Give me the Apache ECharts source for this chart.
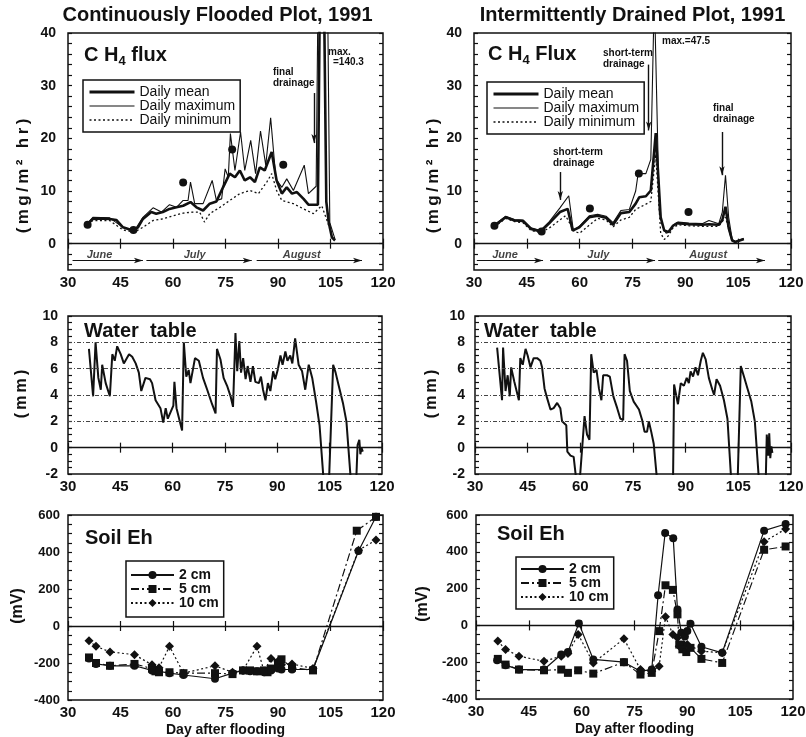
<!DOCTYPE html>
<html>
<head>
<meta charset="utf-8">
<title>CH4 flux, water table and soil Eh, 1991</title>
<script src="https://cdn.jsdelivr.net/npm/echarts@6/dist/echarts.min.js"></script>
<style>
  html, body { margin: 0; padding: 0; background: #fff; }
  #chart { width: 806px; height: 737px; }
</style>
</head>
<body>
<div id="chart"></div>
<script>
// ---------- CH4 flux (mg/m2 hr) vs day after flooding ----------
// Continuously flooded plot
const cfFluxMean = [[35.6,3.7],[37.1,4.7],[39,4.8],[41.9,4.7],[43.8,4.5],[45.7,3.1],[48.5,2.5],[50,3.1],[51.4,4.7],[53.8,6.0],[55.2,5.7],[57.1,6.0],[59,6.6],[61,6.9],[62.9,7.2],[65,7.9],[66.7,6.9],[68.6,6.3],[70.5,7.6],[72.4,8.0],[74.3,10.7],[76.2,13.3],[77.7,12.6],[79.1,13.9],[80.5,12.0],[82,12.6],[83.4,11.7],[84.8,14.5],[86.2,13.9],[88.2,17.4],[89.6,12.0],[91.1,9.5],[92.5,10.7],[94,9.5],[95.4,9.8],[97.3,8.5],[98.7,7.4],[101.4,7.4],[102.5,86],[103.8,8.0],[104.5,4.0],[105.4,1.2],[106.3,0.6]];
const cfFluxMax = [[35.6,3.9],[37.1,5.0],[41.9,4.9],[45.7,3.1],[49,2.5],[51.4,5.0],[54.3,6.8],[56.7,6.0],[59,7.4],[61,6.9],[62.9,8.2],[64.3,8.2],[65,11.7],[66.2,7.6],[68.6,7.6],[71.2,12.0],[72.4,8.2],[73.9,8.5],[74.9,14.2],[75.8,12.6],[76.4,20.9],[77.7,13.9],[79.3,21.2],[80.5,13.9],[82.2,19.6],[83.6,13.3],[85,21.4],[86.5,14.9],[87.9,23.9],[89.4,12.3],[91.1,10.7],[92.5,12.3],[94.4,10.1],[97.5,14.9],[98.7,9.5],[100.9,10.9],[102.8,140.3],[104.8,4.0],[106.3,0.8]];
const cfFluxMin = [[35.6,3.7],[37.1,4.4],[41.9,4.4],[45.7,2.6],[49,2.2],[51.4,3.1],[54.3,4.4],[57.1,4.7],[60,5.3],[62.9,5.8],[65.7,6.0],[67.6,6.0],[69,4.1],[70.5,5.7],[73.4,6.9],[76.2,8.2],[79.1,9.5],[82,10.1],[84.4,9.5],[86.8,11.7],[88.2,13.3],[89.6,10.1],[91.1,8.2],[94.4,7.6],[97.3,6.6],[100.1,5.7],[102.5,7.2],[104,4.4],[105.9,0.6]];
const cfFluxSpot = [[35.6,3.6],[48.7,2.6],[62.9,11.6],[76.9,17.9],[91.5,15.0]];

// Intermittently drained plot
const idFluxMean = [[35.8,3.4],[39,5.0],[41.5,4.4],[43.9,4.3],[46.2,2.8],[48.9,2.3],[51.4,3.9],[54.4,6.0],[56.6,6.6],[58,2.5],[59.9,3.1],[62.7,5.0],[65.1,5.3],[67.5,4.9],[69.5,3.6],[71.7,5.8],[74.1,6.0],[75.9,7.6],[76.9,8.8],[78.8,9.0],[80.2,10.1],[81.6,21.0],[83,5.0],[84,2.5],[85.2,2.2],[86.5,3.4],[87.7,3.9],[91,3.7],[94.8,3.6],[96.7,3.7],[99.5,3.6],[100.5,4.5],[101.4,7.0],[102.3,3.0],[103.3,0.6],[104.2,0.3],[106.6,0.9]];
const idFluxMax = [[35.8,3.6],[39,5.2],[41.5,4.6],[43.9,4.5],[46.2,3.0],[48.9,2.5],[51.4,4.2],[54.4,6.8],[56.9,9.1],[58.2,2.5],[59.9,3.3],[62.7,5.3],[65.1,5.6],[67.5,5.2],[69.5,4.0],[71.7,6.3],[74.1,6.5],[75.9,10.0],[76.6,13.3],[78.8,13.3],[80.2,16.0],[81.2,47.5],[82.6,6.0],[83.5,3.5],[84.5,2.0],[85.5,2.2],[86.5,3.5],[88,4.1],[91,3.9],[94.8,3.8],[96.7,4.4],[99.5,3.8],[100.5,6.0],[101.4,13.0],[102.3,5.0],[103.3,0.8],[104.2,0.4],[106.6,1.0]];
const idFluxMin = [[35.8,3.2],[39,4.8],[41.5,4.2],[43.9,4.0],[46.2,2.5],[48.9,2.1],[51.4,3.0],[54.4,4.5],[56,5.3],[57.5,3.5],[58.5,2.3],[60,2.0],[62.7,3.5],[65.1,4.8],[67.5,4.5],[69.5,3.2],[71.7,4.5],[74.1,5.0],[75.9,6.5],[78.8,7.5],[80.2,8.0],[81.6,17.0],[83,2.0],[84,0.8],[85.2,1.5],[86.5,3.0],[88,3.6],[91,3.4],[94.8,3.3],[99.5,3.3],[101.4,5.0],[103.3,0.4],[106.6,0.8]];
const idFluxSpot = [[35.8,3.4],[49.2,2.3],[62.9,6.7],[76.8,13.3],[90.9,6.0]];

// ---------- Water table (mm) ----------
const cfWater = [[36.0,7.5],[37.2,3.9],[37.9,8.0],[38.7,5.3],[39.4,4.4],[39.8,6.3],[40.8,4.9],[42.0,3.9],[42.7,7.1],[43.4,6.6],[44.1,7.7],[45.1,7.1],[46.0,6.4],[47.5,7.1],[48.4,6.9],[49.4,6.4],[50.3,5.7],[51.0,4.3],[52.2,5.3],[53.5,5.2],[54.1,4.9],[55.1,3.6],[56.5,3.0],[57.3,1.9],[58.0,3.0],[58.6,2.2],[59.4,2.7],[60.2,3.2],[60.5,5.0],[61.1,3.0],[62.7,1.3],[63.2,8.0],[63.9,5.4],[64.6,5.9],[65.1,4.9],[66.4,6.8],[67.5,6.6],[68.7,5.3],[69.9,4.4],[71.3,3.3],[72.3,2.6],[72.7,7.5],[73.7,6.7],[74.6,5.3],[75.6,4.7],[76.6,3.9],[77.3,3.1],[78.0,8.7],[78.5,5.8],[79.1,8.1],[79.6,5.7],[80.2,6.8],[80.9,5.2],[81.5,6.2],[82.3,5.0],[83.0,6.2],[83.7,5.0],[84.7,4.9],[85.3,5.4],[85.9,4.4],[86.6,3.6],[87.3,4.9],[88.0,4.3],[88.8,5.8],[89.4,5.2],[90.1,5.9],[90.9,7.0],[91.5,6.3],[92.3,7.3],[92.9,6.6],[93.7,7.0],[94.3,6.4],[95.1,8.3],[96.1,6.3],[97.1,5.8],[98.0,4.4],[99.0,6.3],[100.0,5.3],[101.1,3.5],[102.1,1.7],[103.3,-2.6],[104.8,-2.6],[106.0,6.3],[106.7,5.7],[107.6,4.7],[108.8,3.4],[109.8,2.0],[111.1,-2.6],[112.6,-2.6],[113.0,0.2],[113.5,0.6],[113.8,-0.5],[114.1,0.0],[114.5,-0.3]];
const idWater = [[36.3,7.6],[37.7,3.6],[38.0,7.6],[38.7,4.3],[39.3,5.5],[39.9,3.9],[40.3,6.1],[41.2,5.0],[42.5,3.6],[42.9,6.8],[43.6,6.3],[44.4,7.5],[45.0,7.0],[45.8,6.1],[46.7,6.8],[47.7,6.8],[48.6,6.6],[49.1,6.1],[49.8,4.5],[50.5,3.8],[51.5,2.9],[52.4,3.0],[53.4,3.4],[54.3,3.0],[54.8,2.0],[56.0,1.7],[56.3,-0.3],[57.2,-0.6],[58.1,-0.7],[58.9,-2.6],[59.8,-2.6],[61.2,2.4],[61.9,1.0],[62.6,0.6],[63.1,7.1],[63.8,5.7],[64.6,5.9],[65.3,4.5],[66.0,3.6],[66.5,5.5],[67.6,5.5],[68.4,5.4],[69.4,3.9],[70.5,3.0],[71.4,2.2],[72.2,2.1],[72.6,7.1],[73.3,6.6],[74.1,4.3],[75.2,3.5],[76.7,2.9],[77.6,2.1],[78.3,1.2],[79.0,1.2],[79.5,2.0],[80.2,1.2],[80.9,0.3],[81.9,-2.6],[86.4,-2.6],[86.7,4.8],[87.8,3.3],[88.6,4.9],[89.5,4.7],[90.3,5.3],[90.9,4.9],[91.4,5.8],[92.1,5.4],[92.8,6.1],[93.5,5.5],[94.3,6.6],[94.9,7.2],[95.7,6.7],[96.6,5.3],[97.6,4.4],[98.1,4.0],[98.8,5.2],[99.8,4.7],[100.9,3.6],[101.9,2.2],[103.0,-2.6],[104.8,-2.6],[105.7,6.2],[106.6,5.4],[107.6,4.5],[108.7,3.5],[109.7,2.0],[110.9,-2.6],[112.8,-2.6],[113.1,1.0],[113.5,-0.6],[113.8,1.1],[114.1,-0.8],[114.4,0.1],[114.7,-0.4]];

// ---------- Soil Eh (mV) at three depths ----------
const cfEh2 = [[36,-175],[38,-205],[42,-215],[49,-215],[54,-240],[56,-245],[59,-255],[63,-265],[72,-285],[77,-255],[80,-240],[82,-245],[84,-245],[86,-250],[88,-240],[90,-230],[91,-235],[94,-235],[100,-235],[113,405],[118,590]];
const cfEh5 = [[36,-170],[38,-200],[42,-215],[49,-205],[54,-230],[55,-245],[56,-250],[59,-250],[63,-255],[72,-255],[77,-260],[80,-240],[82,-240],[84,-245],[86,-240],[87,-250],[88,-230],[90,-200],[91,-180],[94,-225],[100,-240],[112.5,515],[118,590]];
const cfEh10 = [[36,-80],[38,-110],[42,-140],[49,-155],[54,-210],[56,-225],[59,-110],[63,-255],[72,-215],[77,-250],[80,-240],[84,-110],[86,-245],[88,-175],[90,-190],[91,-210],[94,-205],[100,-230],[113,410],[118,465]];
const idEh2 = [[36,-190],[38.4,-216],[42.2,-240],[49.3,-240],[54.2,-158],[56.1,-145],[59.2,11],[63.3,-185],[72,-200],[76.7,-249],[79.9,-240],[81.7,164],[83.7,502],[86,473],[87.2,87],[88.3,-40],[89.3,-60],[90,-31],[90.9,9],[94,-116],[99.9,-149],[111.8,515],[117.9,551]];
const idEh5 = [[36.2,-182],[38.4,-213],[42.2,-240],[49.3,-244],[54.2,-240],[56.1,-258],[59,-244],[63.3,-262],[72,-200],[76.7,-267],[79.9,-258],[82,-31],[83.8,218],[85.9,193],[87.2,60],[87.7,-104],[88.6,-130],[89.7,-145],[90.9,-122],[94,-182],[99.9,-204],[111.8,411],[117.9,429]];
const idEh10 = [[36.2,-85],[38.4,-131],[42.2,-167],[49.3,-195],[54.2,-167],[56.1,-153],[59,-49],[63.3,-204],[72,-73],[76.7,-240],[79.9,-249],[82,-222],[83.8,47],[85.9,-49],[87.2,-67],[87.7,-113],[89,-104],[90,-104],[94,-140],[99.9,-149],[111.8,455],[117.9,524]];

// ---------- Calendar months: [name, label day, arrow start day, arrow end day] ----------
const cfMonths = [['June',39,31.3,51.4],['July',66.2,52.4,82.5],['August',96.8,83.9,114]];
const idMonths = [['June',38.8,30.8,49.6],['July',65.3,51.6,81.4],['August',96.5,82.3,112.6]];

// ---------- Drainage events: [day, arrow top value, arrow tip value] ----------
const cfDrainArrows = [[100.3,28.6,19.1]];
const idDrainArrows = [[54.5,13.6,8.3],[79.6,34.0,21.5],[100.4,21.2,13.0]];

// ---------- Tick labels ----------
const fluxLabels = [0,10,20,30,40];
const waterLabels = [-2,0,2,4,6,8,10];
const waterGridLevels = [2,4,6,8];
const ehLabels = [-400,-200,0,200,400,600];

// ================================================================
const INK = '#111';
const FONT = '"Liberation Sans", Arial, Helvetica, sans-serif';
const BAND_LABEL = -2.2;   // month band, label height (flux units)
const BAND_ARROW = -3.2;   // month band, arrow height (flux units)

function steps(a, b, s) {
  const out = [];
  for (let v = a; v <= b + 1e-9; v += s) out.push(+v.toFixed(3));
  return out;
}
// open up a short label with thin spaces between its glyphs
function airy(s) { return Array.from(s).join('\u2009'); }

const boxes = [
  { left: 68,  top: 33,  width: 315, height: 237 },
  { left: 474, top: 33,  width: 317, height: 237 },
  { left: 68,  top: 316, width: 314, height: 158 },
  { left: 475, top: 316, width: 316, height: 158 },
  { left: 68,  top: 515, width: 315, height: 185 },
  { left: 476, top: 515, width: 317, height: 184 }
];
const grid = boxes.map(b => Object.assign({}, b, {
  show: true, borderColor: INK, borderWidth: 1.5, backgroundColor: 'transparent',
  containLabel: false, outerBoundsMode: 'none'
}));

const tickLine = { color: INK, width: 1.2 };

function xPair(gi, withName) {
  const base = { type: 'value', gridIndex: gi, min: 30, max: 120, interval: 15,
    axisLine: { show: false }, splitLine: { show: false } };
  const bottom = Object.assign({}, base, {
    position: 'bottom',
    axisTick: { show: true, inside: true, length: 5, lineStyle: tickLine },
    axisLabel: { show: true, margin: 5, color: INK, fontFamily: FONT, fontWeight: 'bold', fontSize: 15 }
  });
  if (withName) {
    Object.assign(bottom, {
      name: 'Day after flooding', nameLocation: 'middle', nameGap: 23,
      nameTextStyle: { color: INK, fontFamily: FONT, fontWeight: 'bold', fontSize: 14 }
    });
  }
  const top = Object.assign({}, base, {
    position: 'top',
    axisTick: { show: true, inside: true, length: 5, lineStyle: tickLine },
    axisLabel: { show: false }
  });
  return [bottom, top];
}

function yPair(gi, min, max, labels, ticks, margin, fontSize) {
  const base = { type: 'value', gridIndex: gi, min, max,
    axisLine: { show: false }, splitLine: { show: false } };
  return [
    Object.assign({}, base, {
      position: 'left',
      axisTick: { show: true, inside: true, length: 4, customValues: ticks, lineStyle: tickLine },
      axisLabel: { show: true, customValues: labels, margin, color: INK, fontFamily: FONT, fontWeight: 'bold', fontSize }
    }),
    Object.assign({}, base, {
      position: 'right',
      axisTick: { show: true, inside: true, length: 4, customValues: ticks, lineStyle: tickLine },
      axisLabel: { show: false }
    })
  ];
}

const xAxis = [].concat(
  xPair(0, false), xPair(1, false), xPair(2, false), xPair(3, false), xPair(4, true), xPair(5, true)
);
const yAxis = [].concat(
  yPair(0, -5, 40, fluxLabels, steps(-4, 40, 2), 12, 14),
  yPair(1, -5, 40, fluxLabels, steps(-4, 40, 2), 12, 14),
  yPair(2, -2, 10, waterLabels, steps(-2, 10, 0.5), 10, 14),
  yPair(3, -2, 10, waterLabels, steps(-2, 10, 0.5), 10, 14),
  yPair(4, -400, 600, ehLabels, steps(-400, 600, 50), 8, 13),
  yPair(5, -400, 600, ehLabels, steps(-400, 600, 50), 8, 13)
);

function line(name, gi, data, width, type, extra) {
  return Object.assign({
    type: 'line', name, data, xAxisIndex: 2 * gi, yAxisIndex: 2 * gi,
    symbol: 'none', showSymbol: false, smooth: false, clip: true, silent: true,
    lineStyle: { color: INK, width, type }, itemStyle: { color: INK, opacity: 1 }, z: 3
  }, extra || {});
}

const zeroLine = {
  silent: true, symbol: 'none', label: { show: false },
  lineStyle: { color: INK, width: 1.3, type: 'solid' },
  data: [{ yAxis: 0 }]
};

function fluxPanel(gi, mean, max, min, spot, months, arrows, tag) {
  return [
    line('Daily minimum', gi, min, 1.3, [2, 2.5]),
    line('Daily maximum', gi, max, 1.1, 'solid', {
      markLine: {
        silent: true, symbol: ['none', 'arrow'], symbolSize: [4, 9], label: { show: false },
        lineStyle: { color: INK, width: 1.4, type: 'solid' },
        data: arrows.map(a => [{ coord: [a[0], a[1]] }, { coord: [a[0], a[2]] }])
      }
    }),
    line('Daily mean', gi, mean, 2.6, 'solid', { z: 4, markLine: zeroLine }),
    {
      type: 'scatter', name: 'spot ' + tag, data: spot, xAxisIndex: 2 * gi, yAxisIndex: 2 * gi,
      symbol: 'circle', symbolSize: 8, itemStyle: { color: INK, opacity: 1 }, silent: true, z: 5
    },
    {
      type: 'scatter', name: 'months ' + tag, xAxisIndex: 2 * gi, yAxisIndex: 2 * gi,
      data: months.map(m => [m[1], BAND_LABEL, m[0]]),
      symbolSize: 0, silent: true, z: 5,
      label: { show: true, position: 'inside', formatter: p => p.data[2], color: INK,
        fontFamily: FONT, fontWeight: 'bold', fontStyle: 'italic', fontSize: 11 },
      markLine: {
        silent: true, symbol: ['none', 'arrow'], symbolSize: [4, 9], label: { show: false },
        lineStyle: { color: INK, width: 1.2, type: 'solid' },
        data: months.map(m => [{ coord: [m[2], BAND_ARROW] }, { coord: [m[3], BAND_ARROW] }])
      }
    }
  ];
}

function waterPanel(gi, data, tag) {
  return [
    line('water ' + tag, gi, data, 2, 'solid', {
      markLine: {
        silent: true, symbol: 'none', label: { show: false },
        lineStyle: { color: '#444', width: 1, type: [4, 2, 1, 2] },
        data: waterGridLevels.map(v => ({ yAxis: v }))
          .concat([{ yAxis: 0, lineStyle: { color: INK, width: 1.3, type: 'solid' } }])
      }
    })
  ];
}

function ehPanel(gi, d2, d5, d10) {
  const sym = (s, size) => ({ symbol: s, symbolSize: size, showSymbol: true });
  return [
    line('10 cm', gi, d10, 1.2, [2, 2.5], sym('diamond', 9)),
    line('5 cm', gi, d5, 1.2, [8, 3, 2, 3], sym('rect', 8)),
    line('2 cm', gi, d2, 1.2, 'solid', Object.assign(sym('circle', 8), { markLine: zeroLine }))
  ];
}

const series = [].concat(
  fluxPanel(0, cfFluxMean, cfFluxMax, cfFluxMin, cfFluxSpot, cfMonths, cfDrainArrows, 'cf'),
  fluxPanel(1, idFluxMean, idFluxMax, idFluxMin, idFluxSpot, idMonths, idDrainArrows, 'id'),
  waterPanel(2, cfWater, 'cf'),
  waterPanel(3, idWater, 'id'),
  ehPanel(4, cfEh2, cfEh5, cfEh10),
  ehPanel(5, idEh2, idEh5, idEh10)
);

function fluxLegend(left, top) {
  return {
    left, top, orient: 'vertical', selectedMode: false,
    itemWidth: 45, itemHeight: 10, itemGap: 0, padding: [5, 5, 5, 5],
    borderColor: INK, borderWidth: 1.5, backgroundColor: '#fff', borderRadius: 0,
    textStyle: { color: INK, fontFamily: FONT, fontSize: 14, lineHeight: 13.5 },
    data: [
      { name: 'Daily mean', itemStyle: { opacity: 0 }, lineStyle: { width: 3 } },
      { name: 'Daily maximum', itemStyle: { opacity: 0 }, lineStyle: { width: 1.2 } },
      { name: 'Daily minimum', itemStyle: { opacity: 0 }, lineStyle: { width: 1.3 } }
    ]
  };
}
function ehLegend(left, top, pad) {
  return {
    left, top, orient: 'vertical', selectedMode: false,
    itemWidth: 43, itemHeight: 10, itemGap: 0, padding: [pad, 5, pad, 4],
    borderColor: INK, borderWidth: 1.5, backgroundColor: '#fff', borderRadius: 0,
    textStyle: { color: INK, fontFamily: FONT, fontSize: 14, fontWeight: 'bold', lineHeight: 13.7 },
    data: ['2 cm', '5 cm', '10 cm']
  };
}

function txt(x, y, text, font, align, extra) {
  return Object.assign({
    type: 'text', x, y, silent: true, z: 10,
    style: Object.assign({
      text, font, fill: INK,
      align: align || 'left', verticalAlign: 'middle',
      textAlign: align || 'left', textVerticalAlign: 'middle'
    }, (extra && extra.style) || {})
  }, extra && extra.rotation !== undefined ? { rotation: extra.rotation } : {});
}
function vtxt(x, y, text, size) {
  return txt(x, y, text, 'bold ' + (size || 16) + 'px ' + FONT, 'center', { rotation: Math.PI / 2 });
}
function panelTag(x, y, head, sub, tail) {
  return {
    type: 'text', x, y, silent: true, z: 10,
    style: {
      text: sub ? '{a|' + head + '}{s|' + sub + '}{a|' + tail + '}' : '{a|' + head + '}',
      align: 'left', verticalAlign: 'middle', textAlign: 'left', textVerticalAlign: 'middle',
      rich: {
        a: { fontFamily: FONT, fontWeight: 'bold', fontSize: 20, fill: INK, lineHeight: 26, verticalAlign: 'middle' },
        s: { fontFamily: FONT, fontWeight: 'bold', fontSize: 13, fill: INK, lineHeight: 26, verticalAlign: 'bottom' }
      }
    }
  };
}

const NOTE = 'bold 10px ' + FONT;
const graphic = [
  txt(217.5, 15, 'Continuously Flooded Plot, 1991', 'bold 20px ' + FONT, 'center'),
  txt(632.5, 15, 'Intermittently Drained Plot, 1991', 'bold 20px ' + FONT, 'center'),

  panelTag(84, 55, 'C H', '4', ' flux'),
  panelTag(488, 54, 'C H', '4', ' Flux'),
  panelTag(84, 331, 'Water  table'),
  panelTag(484, 331, 'Water  table'),
  panelTag(85, 538, 'Soil Eh'),
  panelTag(497, 534, 'Soil Eh'),

  vtxt(23, 176, airy('(mg/m² hr)'), 17),
  vtxt(433, 176, airy('(mg/m² hr)'), 17),
  vtxt(22, 394, airy('(mm)')),
  vtxt(432, 394, airy('(mm)')),
  vtxt(18, 606, '(mV)'),
  vtxt(423, 604, '(mV)'),

  txt(273, 72, 'final', NOTE),
  txt(273, 83, 'drainage', NOTE),
  txt(328, 52, 'max.', NOTE),
  txt(333, 62, '=140.3', NOTE),

  txt(603, 53, 'short-term', NOTE),
  txt(603, 64, 'drainage', NOTE),
  txt(662, 41, 'max.=47.5', NOTE),
  txt(553, 152, 'short-term', NOTE),
  txt(553, 163, 'drainage', NOTE),
  txt(713, 108, 'final', NOTE),
  txt(713, 119, 'drainage', NOTE)
];

const option = {
  backgroundColor: '#fff',
  animation: false,
  textStyle: { fontFamily: FONT },
  grid, xAxis, yAxis, series,
  legend: [fluxLegend(83, 80), fluxLegend(487, 82), ehLegend(126, 561, 7), ehLegend(516, 557, 5)],
  graphic
};

const chart = echarts.init(document.getElementById('chart'), null, { renderer: 'canvas', width: 806, height: 737 });
chart.setOption(option);
</script>
</body>
</html>
